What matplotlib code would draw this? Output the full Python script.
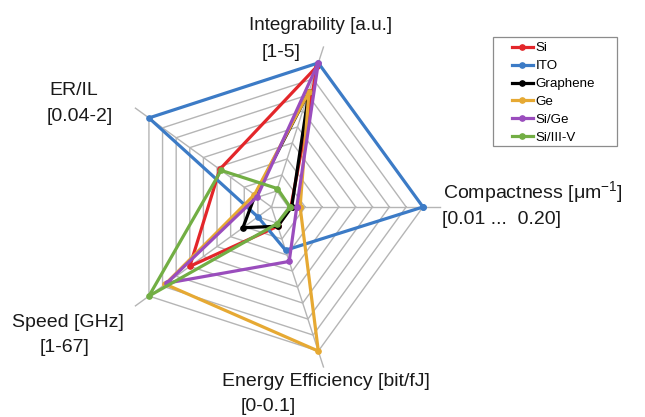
import numpy as np
import matplotlib
matplotlib.use('Agg')
import matplotlib.pyplot as plt
from matplotlib.patches import Rectangle

plt.rcParams['font.family'] = ['Liberation Sans', 'DejaVu Sans']
plt.rcParams['mathtext.default'] = 'regular'

# ---- data ----
axis_names = ['Compactness', 'Integrability', 'ER/IL', 'Speed', 'Energy Efficiency']
axis_angles_deg = [0, 72, 144, 216, 288]
n_rings = 9

series_names = ['Si', 'ITO', 'Graphene', 'Ge', 'Si/Ge', 'Si/III-V']
# values on the 0-9 ring scale, in the order of axis_names
si       = [1.15, 8.8, 3.8, 6.0, 1.2]
ito      = [9.0, 9.0, 9.0, 1.0, 2.7]
graphene = [1.2, 7.2, 1.2, 2.1, 1.2]
ge       = [1.7, 7.2, 1.25, 7.8, 9.0]
sige     = [1.5, 9.0, 1.05, 7.7, 3.4]
si3v     = [1.1, 1.15, 3.7, 9.0, 1.05]
series_values = [si, ito, graphene, ge, sige, si3v]
colors = ['#E3262A', '#3C7BC6', '#000000', '#E6A933', '#9A4DBD', '#72AE44']

W, H = 645, 417
fig = plt.figure(figsize=(W / 100, H / 100), dpi=100)

cx, cy, R = 271.5, 207.0, 151.5
ax = fig.add_axes([(cx - R) / W, (H - cy - R) / H, 2 * R / W, 2 * R / H], projection='polar')
ax.set_ylim(0, n_rings)
ax.set_xticks([])
ax.set_yticks([])
ax.grid(False)
ax.spines['polar'].set_visible(False)
ax.patch.set_alpha(0)

theta = np.deg2rad(axis_angles_deg)
theta_c = np.append(theta, theta[0])
grid_col = '#B5B5B5'
for k in range(1, n_rings + 1):
    ax.plot(theta_c, [k] * len(theta_c), color=grid_col, lw=1.0, zorder=1)
for t in theta:
    ax.plot([t, t], [0, n_rings * 1.11], color=grid_col, lw=1.0, zorder=1, clip_on=False)

lines = []
for name, vals, col in zip(series_names, series_values, colors):
    v = np.append(vals, vals[0])
    ln, = ax.plot(theta_c, v, color=col, lw=2.3, marker='o', ms=3.8,
                  clip_on=False, zorder=3, label=name)
    lines.append(ln)

fs = 14
def ftxt(x, y, s, size=fs):
    fig.text(x / W, 1 - y / H, s, ha='left', va='baseline', fontsize=size, color='#1a1a1a')

ftxt(249, 30, 'Integrability [a.u.]', 13.6)
ftxt(262, 57, '[1-5]')
ftxt(49, 95, 'ER/IL')
ftxt(47, 121, '[0.04-2]')
ftxt(443, 198, 'Compactness [μm$^{-1}$]')
ftxt(442, 224, '[0.01 ...  0.20]')
ftxt(12, 327, 'Speed [GHz]')
ftxt(40, 352, '[1-67]')
ftxt(222, 386, 'Energy Efficiency [bit/fJ]')
ftxt(241, 411, '[0-0.1]')

leg = fig.legend(handles=lines, loc='upper left', bbox_to_anchor=(512 / W, 1 - 42 / H),
                 frameon=False, fontsize=9.6, handlelength=1.55, handletextpad=0.2,
                 labelspacing=0.42, borderpad=0, borderaxespad=0)
fig.patches.append(Rectangle((493 / W, 1 - 146 / H), 124 / W, 109 / H,
                             transform=fig.transFigure, fill=False,
                             edgecolor='#8c8c8c', lw=0.9))

fig.savefig('out.png', dpi=100)
